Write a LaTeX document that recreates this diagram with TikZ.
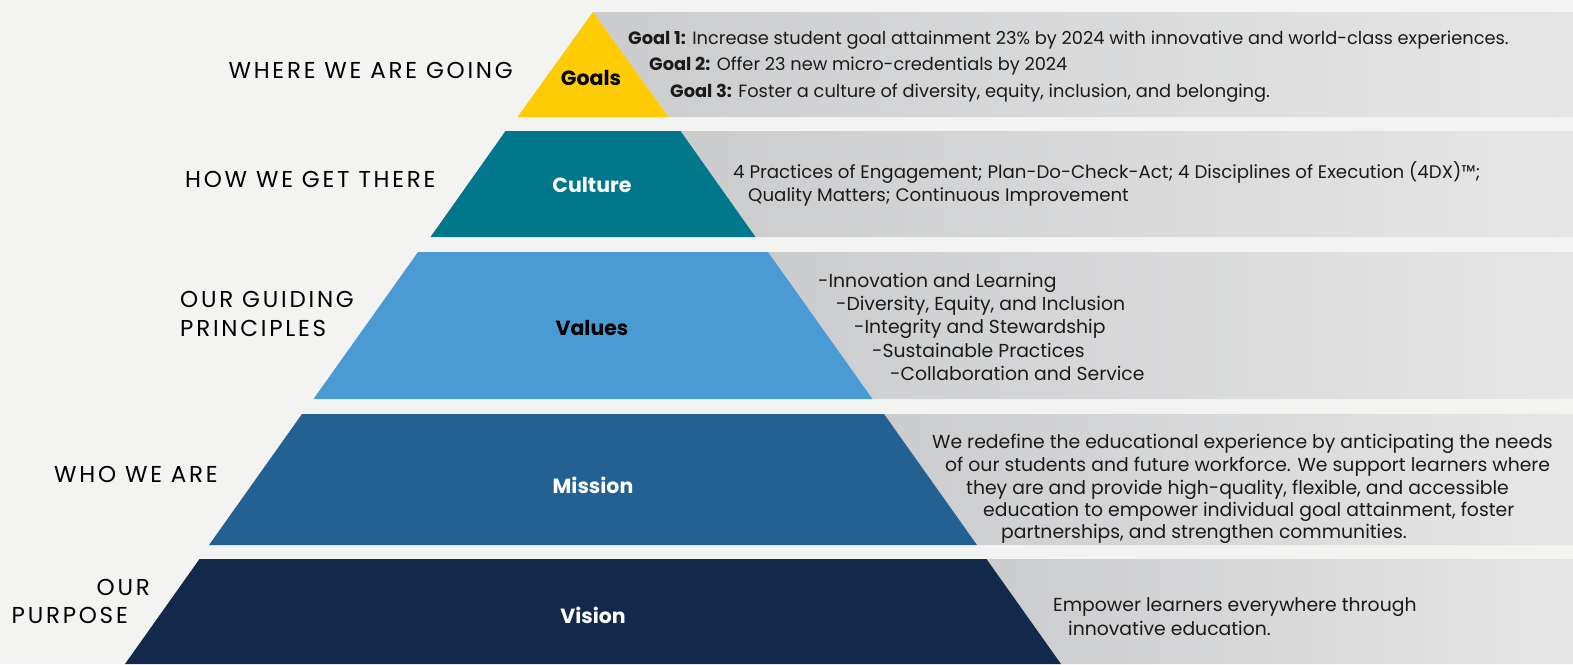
\documentclass[tikz,border=0pt]{standalone}
\usepackage{fontspec}
\setmainfont{Poppins}
\newfontfamily\widesans[LetterSpace=12]{Poppins}

\definecolor{goalsyellow}{RGB}{255,203,5}
\definecolor{cultureteal}{RGB}{0,119,139}
\definecolor{valuesblue}{RGB}{74,155,212}
\definecolor{missionblue}{RGB}{35,97,146}
\definecolor{visionnavy}{RGB}{19,41,75}
\definecolor{bandleft}{RGB}{203,204,206}
\definecolor{bandright}{RGB}{230,230,230}
\definecolor{paper}{RGB}{243,243,241}
\definecolor{inktext}{RGB}{26,26,26}

\begin{document}
\begin{tikzpicture}[x=1pt,y=-1pt,
    side/.style={font=\widesans\fontsize{23}{29}\selectfont,text=black,inner sep=0pt},
    body/.style={font=\fontsize{17.8}{23}\selectfont,text=inktext,inner sep=0pt,anchor=base west},
    bodywide/.style={body,font=\fontsize{18.8}{23}\selectfont},
    tier/.style={font=\fontsize{20.5}{24}\selectfont\bfseries,inner sep=0pt}]
        \useasboundingbox (0,0) rectangle (1573,664);
        \fill[paper] (0,0) rectangle (1573,664);
        \foreach \yt/\yb/\wt/\wb/\tone in {12/117/0/75.5/goalsyellow,131/237/87.5/162.5/cultureteal,252/399/175/279.5/valuesblue,414/545/291/384/missionblue,559/664/393.5/468/visionnavy}{
            \shade[left color=bandleft,right color=bandright] (593+\wt,\yt) -- (1573,\yt) -- (1573,\yb) -- (593+\wb,\yb) -- cycle;
            \fill[\tone] (593-\wt,\yt) -- (593+\wt,\yt) -- (593+\wb,\yb) -- (593-\wb,\yb) -- cycle;
        }
        \node[tier,text=black] (goals) at (591,78) {Goals};
        \node[tier,text=white] (culture) at (592,185) {Culture};
        \node[tier,text=black] (values) at (592,328) {Values};
        \node[tier,text=white] (mission) at (593,485) {Mission};
        \node[tier,text=white] (vision) at (593,615) {Vision};

        \node[side,anchor=east] (going) at (513,70) {WHERE WE ARE GOING};
        \node[side,anchor=west] (there) at (185,179) {HOW WE GET THERE};
        \node[side,anchor=west,align=left] (principles) at (180,314) {OUR GUIDING\\PRINCIPLES};
        \node[side,anchor=west] (whoweare) at (54,474) {WHO WE ARE};
        \node[side,anchor=east] (our) at (150,587) {OUR};
        \node[side,anchor=east] (purpose) at (128,615) {PURPOSE};

        \node[body] (goal1) at (628,44) {\textbf{Goal 1:} Increase student goal attainment 23\% by 2024 with innovative and world-class experiences.};
        \node[body] (goal2) at (649,70) {\textbf{Goal 2:} Offer 23 new micro-credentials by 2024};
        \node[body] (goal3) at (670,97) {\textbf{Goal 3:} Foster a culture of diversity, equity, inclusion, and belonging.};

        \node[body,font=\fontsize{18.2}{23}\selectfont] (practices) at (733,178) {4 Practices of Engagement; Plan-Do-Check-Act; 4 Disciplines of Execution (4DX)™;};
        \node[body,font=\fontsize{18.2}{23}\selectfont] (quality) at (748,201) {Quality Matters; Continuous Improvement};

        \foreach \v [count=\i] in {-Innovation and Learning,{-Diversity, Equity, and Inclusion},-Integrity and Stewardship,-Sustainable Practices,-Collaboration and Service}
            \node[bodywide] (value\i) at (800+18*\i,264+23.3*\i) {\v};

        \node[bodywide] (mission1) at (932,448) {We redefine the educational experience by anticipating the needs};
        \node[bodywide] (mission2) at (945,471) {of our students and future workforce. We support learners where};
        \node[bodywide] (mission3) at (966,494) {they are and provide high-quality, flexible, and accessible};
        \node[bodywide] (mission4) at (983,516) {education to empower individual goal attainment, foster};
        \node[bodywide] (mission5) at (1001,538) {partnerships, and strengthen communities.};

        \node[bodywide] (vision1) at (1053,611) {Empower learners everywhere through};
        \node[bodywide] (vision2) at (1068,635) {innovative education.};
\end{tikzpicture}
\end{document}
